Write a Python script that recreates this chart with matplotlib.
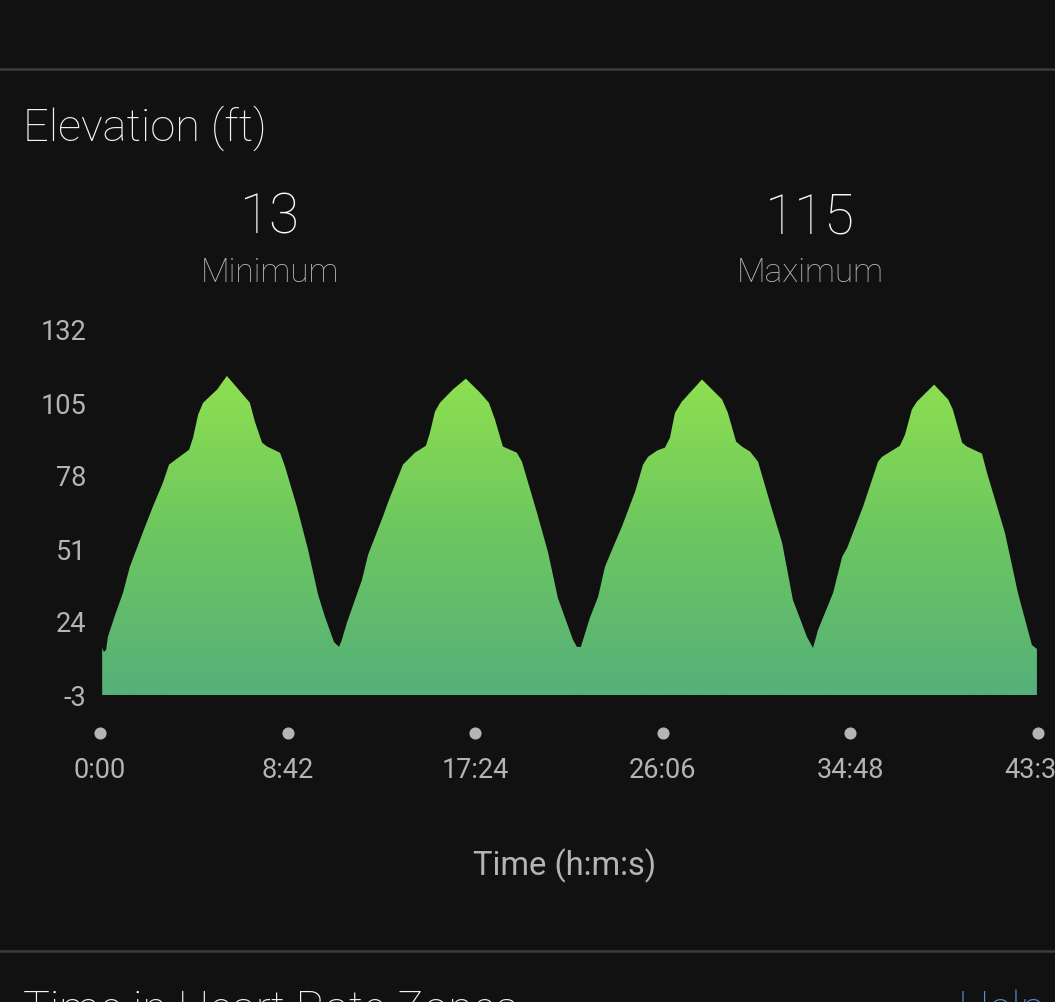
"""Elevation chart, dark activity screen."""
import matplotlib
matplotlib.use("Agg")
import matplotlib.pyplot as plt
import numpy as np
from matplotlib.colors import LinearSegmentedColormap

# elapsed seconds and elevation in feet
time_s = [6, 11, 17, 22, 42, 64, 83, 120, 147, 175, 192, 214, 248, 259, 273, 287, 326, 353, 381,
          417, 431, 451, 465, 501, 515, 548, 579, 607, 626, 651, 665,
          672, 687, 729, 746, 787, 801, 843, 876, 907, 918, 932, 946, 982, 1018, 1057, 1082, 1099,
          1121, 1160, 1174, 1216, 1247, 1274, 1316, 1327, 1338,
          1363, 1386, 1405, 1433, 1452, 1489, 1511, 1525, 1550, 1572, 1586, 1600, 1619, 1675, 1731,
          1747, 1770, 1786, 1809, 1831, 1870, 1898, 1928, 1967, 1984,
          1998, 2040, 2065, 2079, 2123, 2165, 2176, 2226, 2240, 2259, 2273, 2321,
          2360, 2373, 2399, 2412, 2454, 2468, 2518, 2554, 2593, 2607]
elevation_ft = [14.4, 12.9, 13.7, 18.5, 26.6, 34.8, 44.4, 57.4, 66.6, 75.5, 82.2, 84.4, 87.7, 92.2,
                100.7, 105.1, 110, 115, 110.7, 105.1, 98.1, 90.3, 88.9, 86.6, 81.4, 66.6, 50.7,
                34, 25.9, 16.6, 14.8,
                17, 23.7, 39.6, 48.9, 62.9, 68.1, 82.2, 86.6, 89.2, 94, 101.8, 105.1, 110, 114, 108.9,
                105.1, 98.9, 88.9, 86.6, 83.3, 64.4, 49.6, 32.9, 17.4, 14.8, 14.8,
                25.5, 33.3, 44.4, 53.3, 59.2, 72.2, 82.2, 85.1, 87.4, 88.5, 92.2, 101.4, 105.5, 113.7,
                106.3, 101.4, 90.7, 88.9, 87, 83.3, 65.5, 53.3, 32.2, 18.5, 14.4,
                21.1, 34.8, 48.1, 51.4, 66.6, 83.3, 85.1, 89.2, 93.3, 102.6, 105.5, 111.8, 106.3,
                102.6, 90.3, 88.9, 86.3, 79.2, 57, 34.8, 15.5, 14]

y_ticks = [-3, 24, 51, 78, 105, 132]
x_ticks = [0, 522, 1044, 1566, 2088, 2610]
x_labels = ["0:00", "8:42", "17:24", "26:06", "34:48", "43:30"]

BG = "#111111"
W, H = 1055, 1002
FONT = "Roboto"

plt.rcParams["font.family"] = [FONT, "DejaVu Sans"]
plt.rcParams["axes.unicode_minus"] = False

fig = plt.figure(figsize=(W / 100, H / 100), dpi=100, facecolor=BG)


def fx(px):
    return px / W


def fy(py):
    return 1 - py / H


ax = fig.add_axes([fx(100), fy(695), fx(938), (695 - 330) / H], facecolor=BG)
ax.set_xlim(0, 2610)
ax.set_ylim(-3, 132)
for side in ax.spines.values():
    side.set_visible(False)

# gradient fill clipped to the elevation outline
cmap = LinearSegmentedColormap.from_list("elev", ["#55b07a", "#6cc660", "#8ee04f"])
grad = np.linspace(0, 1, 256).reshape(-1, 1)
area = ax.fill_between(time_s, elevation_ft, -3, color="none", linewidth=0)
im = ax.imshow(grad, origin="lower", aspect="auto", cmap=cmap, extent=[0, 2610, -3, 115], zorder=2)
im.set_clip_path(area.get_paths()[0], transform=ax.transData)
ax.set_xlim(0, 2610)
ax.set_ylim(-3, 132)

ax.set_yticks(y_ticks)
ax.tick_params(axis="y", length=0, pad=10, labelsize=19.5, labelcolor="#b4b4b4")
ax.set_xticks(x_ticks)
ax.set_xticklabels(x_labels)
ax.tick_params(axis="x", length=0, pad=45, labelsize=19.5, labelcolor="#b4b4b4")
ax.scatter(x_ticks, [-38 / 365] * len(x_ticks), s=76, color="#b4b4b4", linewidths=0,
           transform=ax.get_xaxis_transform(), clip_on=False)

# page furniture around the chart
for py in (69, 951):
    fig.add_artist(plt.Line2D([0, 1], [fy(py), fy(py)], color="#3c3c3c", lw=1.8))

fig.text(fx(23), fy(141), "Elevation (ft)", color="#f4f4f4", fontsize=32.7, fontweight="light", va="baseline")
fig.text(fx(270), fy(233), "13", color="#f8f8f8", fontsize=39.5, fontweight="light", ha="center", va="baseline")
fig.text(fx(810), fy(233), "115", color="#f8f8f8", fontsize=39.5, fontweight="light", ha="center", va="baseline")
fig.text(fx(270), fy(282), "Minimum", color="#b4b4b4", fontsize=24, fontweight="light", ha="center", va="baseline")
fig.text(fx(810), fy(282), "Maximum", color="#b4b4b4", fontsize=24, fontweight="light", ha="center", va="baseline")
fig.text(fx(565), fy(875), "Time (h:m:s)", color="#b4b4b4", fontsize=23.5, ha="center", va="baseline")
fig.text(fx(23), fy(1023), "Time in Heart Rate Zones", color="#f4f4f4", fontsize=32.4, fontweight="light", va="baseline")
fig.text(fx(958), fy(1023), "Help", color="#5b8fd0", fontsize=32.4, fontweight="light", va="baseline")

fig.savefig("out.png", dpi=100, facecolor=BG)
